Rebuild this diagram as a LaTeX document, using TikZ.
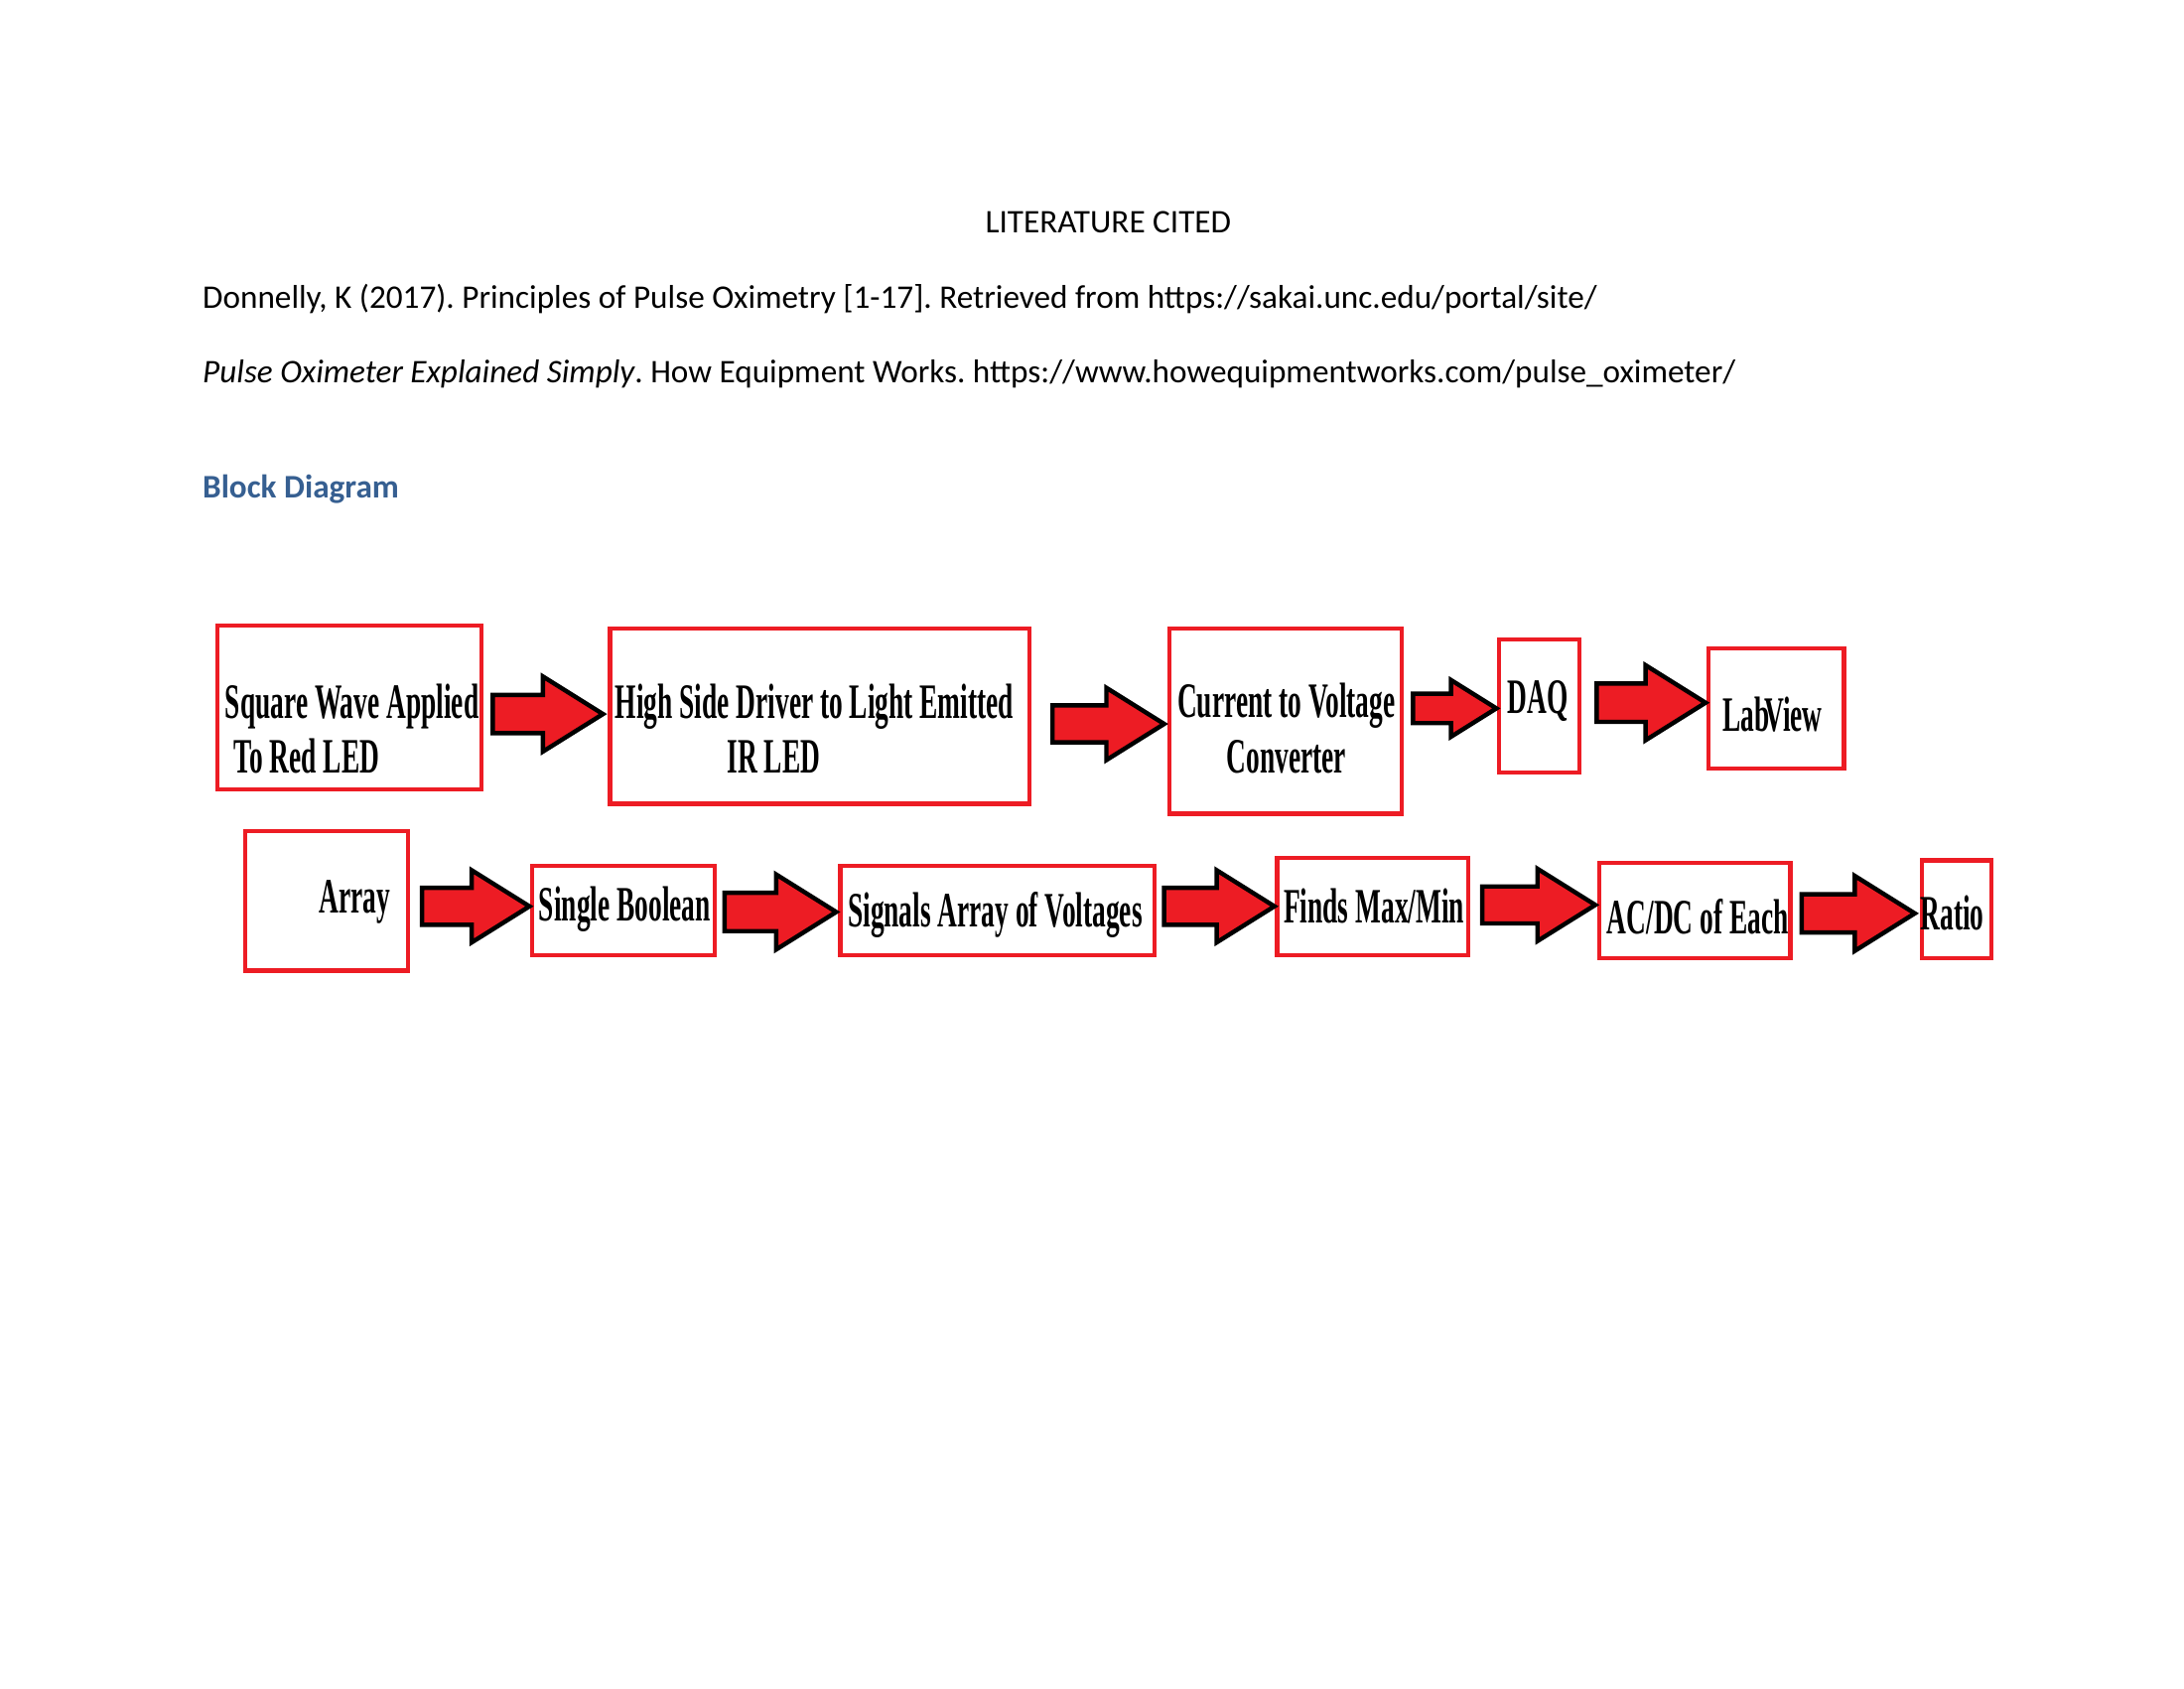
\documentclass[tikz,border=0pt]{standalone}
\usepackage{fontspec}
\setmainfont{Carlito}
\newfontfamily\blockfont[FakeStretch=0.55]{Liberation Serif}
\usetikzlibrary{shapes.arrows}

\definecolor{blockred}{RGB}{237,28,36}
\definecolor{headblue}{RGB}{54,95,145}

\begin{document}
\frenchspacing
\begin{tikzpicture}[
  x = 0.018084cm, y = -0.018084cm,
  page/.style = {inner sep=0pt, font=\fontsize{12}{14}\selectfont},
  box/.style 2 args = {
    rectangle,
    draw=blockred,
    line width=1.5pt,
    inner sep=0pt,
    minimum width=#1*0.018084cm,
    minimum height=#2*0.018084cm
  },
  lbl/.style = {
    inner sep=0pt,
    align=#1,
    font=\blockfont\bfseries\fontsize{18}{20}\selectfont
  },
  lbl/.default = center,
  arr/.style 2 args = {
    single arrow,
    draw=black,
    fill=blockred,
    line width=1.6pt,
    anchor=tail,
    inner xsep=0pt,
    inner ysep=#2*0.24*0.018084cm,
    single arrow head extend=#2*0.26*0.018084cm,
    single arrow tip angle=64,
    minimum height=#1*0.018084cm
  },
  ]
  \useasboundingbox (0,0) rectangle (1545,1194);

  \node[page, anchor=base] (title) at (784,165) {LITERATURE CITED};
  \node[page, anchor=base west] (ref1) at (143,218)
    {Donnelly, K (2017). Principles of Pulse Oximetry [1-17]. Retrieved from https://sakai.unc.edu/portal/site/};
  \node[page, anchor=base west] (ref2) at (143,271)
    {\textit{Pulse Oximeter Explained Simply}. How Equipment Works. https://www.howequipmentworks.com/pulse\_oximeter/};
  \node[page, anchor=base west, font=\bfseries\fontsize{12}{14}\selectfont, text=headblue] (heading) at (143,352) {Block Diagram};

  % first row
  \node[box={187}{116}] (square) at (247,500.5) {};
  \node[box={297}{124}] (driver) at (580,506.5) {};
  \node[box={164}{131}] (conv) at (909.5,510) {};
  \node[box={57}{94}] (daq) at (1089,499.5) {};
  \node[box={96}{85}] (labview) at (1256.5,501) {};
  \node[lbl=left, anchor=west] (square-t) at (159,515.5) {Square Wave Applied\\\hspace*{0.11cm}To Red LED};
  \node[lbl=left, anchor=west] (driver-t) at (435,515.5) {High Side Driver to Light Emitted\\\hspace*{1.43cm}IR LED};
  \node[lbl] (conv-t) at (910,515) {Current to Voltage\\Converter};
  \node[lbl] (daq-t) at (1088,496) {DAQ};
  \node[lbl] (labview-t) at (1254,505) {Lab\kern-2pt View};
  \node[arr={78}{50}] (a1) at (347,505) {};
  \node[arr={79}{48}] (a2) at (743,512) {};
  \node[arr={59}{37}] (a3) at (998,501) {};
  \node[arr={77}{50}] (a4) at (1128,497) {};

  % second row
  \node[box={115}{99}] (array) at (231,637) {};
  \node[box={129}{63}] (bool) at (441,644) {};
  \node[box={222}{63}] (signals) at (705.5,644) {};
  \node[box={135}{69}] (maxmin) at (971,641) {};
  \node[box={135}{67}] (acdc) at (1199,644) {};
  \node[box={49}{69}] (ratio) at (1384,643) {};
  \node[lbl] (array-t) at (251,638) {Array};
  \node[lbl] (bool-t) at (442,643) {Single Boolean};
  \node[lbl] (signals-t) at (704,647) {Signals Array of Voltages};
  \node[lbl] (maxmin-t) at (972,641) {Finds Max/Min};
  \node[lbl] (acdc-t) at (1201,648) {AC/DC of Each};
  \node[lbl] (ratio-t) at (1381,646) {Ratio};
  \node[arr={76}{48}] (a5) at (297,641) {};
  \node[arr={79}{50}] (a6) at (511,645) {};
  \node[arr={78}{48}] (a7) at (822,641) {};
  \node[arr={80}{48}] (a8) at (1047,640) {};
  \node[arr={80}{50}] (a9) at (1273,646) {};
\end{tikzpicture}
\end{document}
